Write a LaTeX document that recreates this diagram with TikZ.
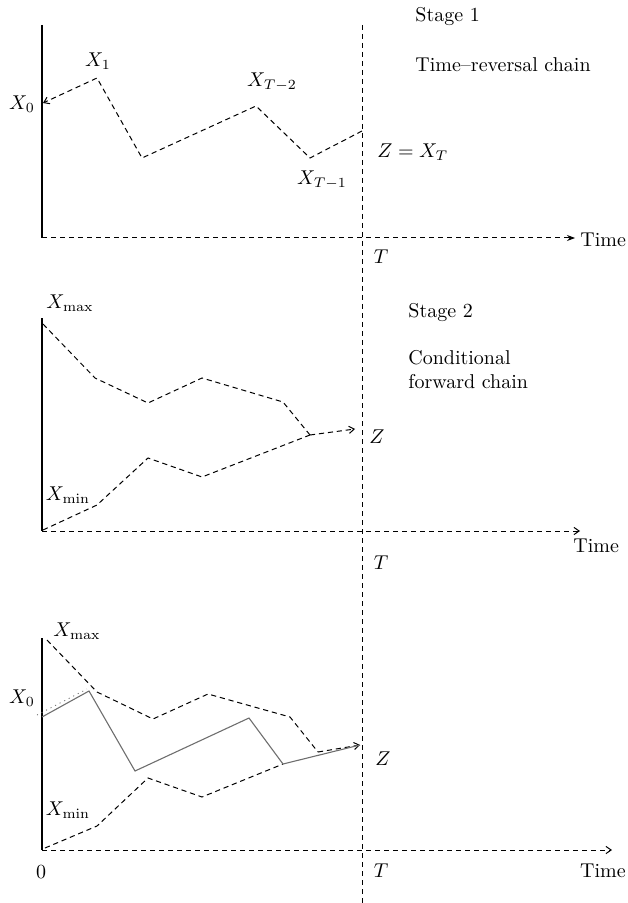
\documentclass[tikz,border=0pt]{standalone}
\usepackage{tikz}
\usetikzlibrary{arrows.meta, positioning}
\usepackage{xcolor}
\definecolor{pathgray}{RGB}{110,110,110}

\begin{document}
\begin{tikzpicture}[
  x=0.5pt, y=-0.5pt,
  axis/.style={line width=0.65pt},
  chain/.style={dash pattern=on 2.6pt off 1.9pt, line width=0.5pt},
  darr/.style={chain, -{Straight Barb[length=2.6pt, width=3.6pt]}},
  sample/.style={pathgray, line width=0.55pt},
  lbl/.style={inner sep=0pt, font=\normalsize},
  txt/.style={inner sep=0pt, font=\normalsize, anchor=west, align=left},
]
\useasboundingbox (0,0) rectangle (627,903);

% === Time T divider (shared by all stages) ===
\coordinate (ttop) at (362,25);
\coordinate (tbot) at (362,903);
\draw[chain] (ttop) -- (tbot);

% === Stage 1: time-reversal chain ===
\coordinate (o1) at (42,238);
\coordinate (y1) at (42,25);
\coordinate (t1) at (575,238);
\draw[axis] (y1) -- (o1);
\draw[chain, -{Stealth[length=4pt, width=3pt]}] (o1) -- (t1);

\coordinate (a0) at (43,103);
\coordinate (a1) at (97,78);
\coordinate (a2) at (142,158);
\coordinate (a3) at (256,106);
\coordinate (a4) at (310,158);
\coordinate (a5) at (362,131);
\draw[darr] (a5) -- (a4) -- (a3) -- (a2) -- (a1) -- (a0);

\node[lbl] (lx0a) at (22,104) {$X_0$};
\node[lbl] (lx1) at (98,61) {$X_1$};
\node[lbl] (lxt2) at (272,82) {$X_{T-2}$};
\node[lbl] (lxt1) at (322,180) {$X_{T-1}$};
\node[lbl, anchor=west] (lzx) at (377,152) {$Z = X_T$};
\node[lbl] (lt1) at (381,257) {$T$};
\node[txt] (stage1) at (415,17) {Stage 1};
\node[txt] (rev) at (415,65) {Time--reversal chain};
\node[txt] (time1) at (580,240) {Time};

% === Stage 2: conditional forward chain ===
\coordinate (o2) at (42,531);
\coordinate (y2) at (42,318);
\coordinate (t2) at (580,531);
\draw[axis] (y2) -- (o2);
\draw[darr] (o2) -- (t2);

\coordinate (b0) at (43,324);
\coordinate (b1) at (95,378);
\coordinate (b2) at (148,403);
\coordinate (b3) at (202,378);
\coordinate (b4) at (283,402);
\coordinate (b5) at (310,435);
\coordinate (z2) at (355,429);
\coordinate (c0) at (43,530);
\coordinate (c1) at (97,505);
\coordinate (c2) at (148,458);
\coordinate (c3) at (202,477);
\draw[chain] (b0) -- (b1) -- (b2) -- (b3) -- (b4) -- (b5);
\draw[chain] (c0) -- (c1) -- (c2) -- (c3) -- (b5);
\draw[darr] (b5) -- (z2);

\node[lbl] (lmax2) at (70,303) {$X_{\max}$};
\node[lbl] (lmin2) at (68,495) {$X_{\min}$};
\node[lbl, anchor=west] (lz2) at (369,437) {$Z$};
\node[lbl] (lt2) at (381,563) {$T$};
\node[txt] (stage2) at (408,313) {Stage 2};
\node[txt] (fwd) at (408,370) {Conditional\\forward chain};
\node[txt] (time2) at (573,546) {Time};

% === Stage 3: coupled sample path ===
\coordinate (o3) at (42,850);
\coordinate (y3) at (42,638);
\coordinate (t3) at (612,850);
\draw[axis] (y3) -- (o3);
\draw[darr] (o3) -- (t3);

\coordinate (d0) at (47,640);
\coordinate (d1) at (97,692);
\coordinate (d2) at (153,719);
\coordinate (d3) at (208,694);
\coordinate (d4) at (290,717);
\coordinate (d5) at (318,752);
\coordinate (z3) at (360,745);
\coordinate (e0) at (45,848);
\coordinate (e1) at (97,826);
\coordinate (e2) at (148,778);
\coordinate (e3) at (202,797);
\coordinate (e4) at (283,764);
\draw[chain] (d0) -- (d1) -- (d2) -- (d3) -- (d4) -- (d5);
\draw[darr] (d5) -- (z3);
\draw[chain] (e0) -- (e1) -- (e2) -- (e3) -- (e4);

\coordinate (f0) at (42,717);
\coordinate (f1) at (89,691);
\coordinate (f2) at (135,771);
\coordinate (f3) at (249,718);
\coordinate (g0) at (37,715);
\coordinate (g1) at (87,689);
\draw[sample] (f0) -- (f1) -- (f2) -- (f3) -- (e4) -- (z3);
\draw[sample, dotted, line width=0.4pt] (g0) -- (g1);

\node[lbl] (lmax3) at (77,631) {$X_{\max}$};
\node[lbl] (lx0c) at (22,698) {$X_0$};
\node[lbl] (lmin3) at (68,810) {$X_{\min}$};
\node[lbl, anchor=west] (lz3) at (375,759) {$Z$};
\node[lbl] (lt3) at (381,871) {$T$};
\node[lbl] (lzero) at (41,872) {$0$};
\node[lbl] (time3) at (603,871) {Time};
\end{tikzpicture}
\end{document}
